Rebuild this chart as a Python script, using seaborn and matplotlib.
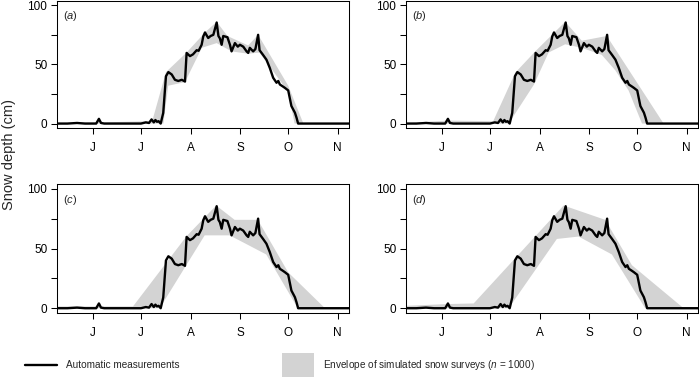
import numpy as np
import matplotlib
matplotlib.use("Agg")
import matplotlib.pyplot as plt
import seaborn as sns
from matplotlib.lines import Line2D
from matplotlib.patches import Rectangle

sns.set_theme(style="ticks")
plt.rcParams['font.family'] = ['Liberation Sans', 'DejaVu Sans']
plt.rcParams['mathtext.fontset'] = 'custom'
plt.rcParams['mathtext.it'] = 'Liberation Sans:italic'
plt.rcParams['mathtext.rm'] = 'Liberation Sans'
plt.rcParams['font.size'] = 8

# days counted from 1 June
month_days = [0, 30, 61, 92, 122, 153]
month_labels = ["J", "J", "A", "S", "O", "N"]

# automatic measurements (snow depth, cm)
obs_day = [-22.5, -16, -10, -5, 0, 2, 3.7, 5, 7, 15, 25, 30, 33, 35, 36.6, 38, 39, 40, 41, 42.3, 43.9,
           45.6, 47.1, 49.2, 51.2, 53.3, 55.5, 57.5, 58.5, 60.6, 62.5,
           64.8, 66, 67.9, 68.9, 70, 72, 73.5, 75.2, 77.3, 78.4,
           79.3, 80.4, 81.4, 84, 85.6, 86.6, 88.7, 90.5, 91.8, 93.9,
           96, 97, 98, 100.1, 101.5, 103.2, 104.1, 106.3, 108.4, 110.5,
           112.6, 114.7, 115.8, 116.8, 118.5, 119.9, 122, 124, 126.2, 127.2,
           128.2, 140, 160]
obs_depth = [0, 0, 0.5, 0, 0, 0, 4, 0.5, 0, 0, 0, 0, 1, 0.5, 3.5, 1, 3, 1.5, 2, 0, 9,
             40, 43.5, 41.5, 37, 36, 37, 35.5, 59.7, 57, 58.5,
             62, 61.5, 66.6, 73.6, 77, 72.3, 74, 75, 85.4, 74,
             72, 66.6, 74, 73, 66.6, 61, 68, 65, 66.6, 65,
             61, 59.7, 64, 61, 63, 75, 62, 58, 54, 47,
             38.7, 34.5, 36, 33, 31.5, 30.2, 28, 14.8, 9.2, 5,
             0, 0, 0]

# envelopes of simulated snow surveys
upper_a_day = [-22.5, 2, 3.7, 6, 37, 45.6, 58.5, 70, 77.3, 84, 97, 103.2, 122, 131.5, 160]
upper_a = [0.5, 1, 4.5, 1, 2, 43.5, 60, 77, 86, 74, 66, 75, 32, 0, 0]
lower_a_day = [-22.5, 44, 47, 57.5, 68, 77.3, 86.6, 97, 104, 122, 126, 160]
lower_a = [0, 0, 32, 35, 64, 68, 61, 59, 60, 27, 0, 0]

upper_b_day = [-22.5, 3.7, 32, 45.8, 58.3, 77, 87.4, 103, 138.5, 160]
upper_b = [0.5, 2.5, 2, 43, 61, 86, 70, 74, 0, 0]
lower_b_day = [-22.5, 41.7, 57.5, 66.6, 77, 87.4, 99.9, 108.3, 116.6, 125, 160]
lower_b = [0, 0, 33, 60, 67, 64, 58, 45, 28, 0, 0]

upper_c_day = [-22.5, 25, 58.3, 77, 88.5, 103, 122, 145, 160]
upper_c = [1.5, 1.5, 60, 86, 74, 74, 30, 0, 0]
lower_c_day = [-22.5, 41.7, 69.8, 85.4, 108.3, 128, 160]
lower_c = [0, 0, 61, 61, 45, 0, 0]

upper_d_day = [-22.5, 3.7, 19.8, 76, 102, 118.7, 151, 160]
upper_d = [2, 3.5, 4, 86, 74, 36, 0, 0]
lower_d_day = [-22.5, 41.7, 71.8, 85.4, 106.2, 127, 160]
lower_d = [0, 0, 58, 60, 45, 0, 0]

panels = [
    ("a", (57, 0.5, 349, 128.3), upper_a_day, upper_a, lower_a_day, lower_a),
    ("b", (406, 0.5, 698, 128.3), upper_b_day, upper_b, lower_b_day, lower_b),
    ("c", (57, 184, 349, 313), upper_c_day, upper_c, lower_c_day, lower_c),
    ("d", (406, 184, 698, 313), upper_d_day, upper_d, lower_d_day, lower_d),
]

W, H = 699, 377
fig = plt.figure(figsize=(W / 100, H / 100), dpi=100)
GREY = "#d3d3d3"

for tag, (l, t, r, b), ud, uv, ld, lv in panels:
    ax = fig.add_axes([l / W, 1 - b / H, (r - l) / W, (b - t) / H])
    ax.fill(np.r_[ud, ld[::-1]], np.r_[uv, lv[::-1]], color=GREY, lw=0)
    sns.lineplot(x=obs_day, y=obs_depth, ax=ax, color="black", lw=1.7)
    ax.set_xlim(-22.5, 160)
    ax.set_ylim(-4, 104)
    ax.set_xticks(month_days, month_labels)
    ax.set_yticks([0, 25, 50, 75, 100], ["0", "", "50", "", "100"])
    ax.tick_params(direction="out", length=4.5, width=0.75, color="black",
                   labelsize=8.5, labelcolor="black")
    ax.tick_params(axis="x", pad=5.5)
    ax.tick_params(axis="y", pad=2.5)
    for s in ax.spines.values():
        s.set_visible(True)
        s.set_linewidth(0.75)
        s.set_color("black")
    ax.set_xlabel("")
    ax.set_ylabel("")
    ax.text(0.02, 0.875, "($\\it{" + tag + "}$)", transform=ax.transAxes,
            va="center", ha="left", fontsize=8)

fig.text(9 / W, 1 - 155 / H, "Snow depth (cm)", rotation=90, va="center", ha="center",
         fontsize=10.5)

# legend
fig.add_artist(Line2D([25 / W, 57 / W], [1 - 365 / H] * 2, color="black", lw=1.7,
                      transform=fig.transFigure))
fig.text(66 / W, 1 - 365 / H, "Automatic measurements", va="center", fontsize=7.2)
fig.add_artist(Rectangle((282 / W, 1 - 377 / H), 32 / W, 24 / H, transform=fig.transFigure,
                         color=GREY, lw=0))
fig.text(323 / W, 1 - 365 / H, "Envelope of simulated snow surveys ($\\it{n}$ = 1000)",
         va="center", fontsize=7.2)

fig.savefig("out.png", dpi=100)
